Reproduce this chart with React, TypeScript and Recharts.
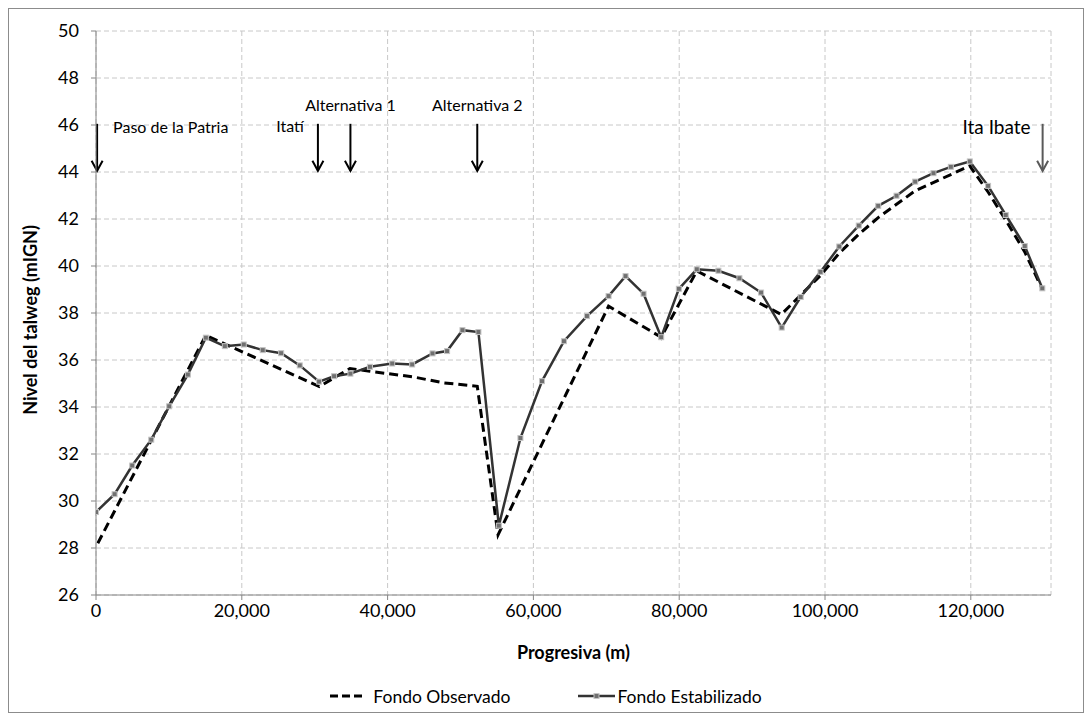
import React from "react";
import {
  LineChart,
  Line,
  XAxis,
  YAxis,
  CartesianGrid,
  Legend,
  ReferenceLine,
} from "recharts";

// Fondo Estabilizado (progresiva m, nivel mIGN)
const stabX = [
  0, 2550, 4970, 7580, 10040, 12600, 15070, 17670, 20270, 22870, 25400, 27950,
  30600, 32660, 34900, 37580, 40630, 43370, 46160, 48160, 50270, 52460, 55260,
  58220, 61180, 64190, 67340, 70310, 72640, 75110, 77530, 79950, 82410, 85380,
  88260, 91230, 94060, 96660, 99380, 101960, 104630, 107300, 109810, 112370,
  114880, 117260, 119860, 122370, 124790, 127400, 129810,
];
const stabY = [
  29.53, 30.29, 31.51, 32.61, 34.03, 35.38, 36.95, 36.59, 36.66, 36.42, 36.29,
  35.77, 35.08, 35.31, 35.42, 35.71, 35.85, 35.81, 36.28, 36.38, 37.27, 37.19,
  28.95, 32.68, 35.1, 36.8, 37.87, 38.72, 39.57, 38.82, 36.97, 39.03, 39.86,
  39.8, 39.48, 38.87, 37.38, 38.68, 39.75, 40.83, 41.72, 42.56, 42.99, 43.59,
  43.95, 44.22, 44.45, 43.41, 42.17, 40.85, 39.05,
];

// Fondo Observado
const obsX = [
  250, 15070, 30630, 34840, 37580, 43510, 47620, 52300, 55150, 70310, 77530,
  82410, 94000, 99380, 101960, 104630, 107300, 112370, 119860, 122370, 124790,
  127400, 129700,
];
const obsY = [
  28.2, 37.05, 34.87, 35.64, 35.52, 35.28, 35.03, 34.88, 28.56, 38.29, 36.97,
  39.79, 37.94, 39.6, 40.55, 41.35, 42.06, 43.2, 44.26, 43.15, 41.95, 40.6,
  39.08,
];

const xTicks = [0, 20000, 40000, 60000, 80000, 100000, 120000];
const yTicks = [26, 28, 30, 32, 34, 36, 38, 40, 42, 44, 46, 48, 50];

// Sitios marcados con flechas
const siteNames = ["Paso de la Patria", "Itatí", "Alternativa 1", "Alternativa 2", "Ita Ibate"];
const siteX = [150, 30440, 34900, 52300, 129850];

const stabData = stabX.map((x, i) => ({ x, y: stabY[i] }));
const obsData = obsX.map((x, i) => ({ x, y: obsY[i] }));

const FONT = "Lato, 'Open Sans', sans-serif";

// text placement relative to the top of each arrow
const labelPos: Record<string, { dx: number; dy: number; anchor: string; size: number }> = {
  "Paso de la Patria": { dx: 16, dy: 3, anchor: "start", size: 16 },
  "Itatí": { dx: -14, dy: 2, anchor: "end", size: 16 },
  "Alternativa 1": { dx: 0, dy: -19, anchor: "middle", size: 16 },
  "Alternativa 2": { dx: 0, dy: -19, anchor: "middle", size: 16 },
  "Ita Ibate": { dx: -12, dy: 3, anchor: "end", size: 19 },
};

const arrowShape = (name: string) => (props: any) => {
  const { x1, y1, x2, y2 } = props;
  const color = name === "Ita Ibate" ? "#595959" : "#000";
  const p = labelPos[name];
  return (
    <g>
      <line x1={x1} y1={y1} x2={x2} y2={y2} stroke={color} strokeWidth={2} />
      <polyline
        points={`${x2 - 5.5},${y2 - 10} ${x2},${y2} ${x2 + 5.5},${y2 - 10}`}
        fill="none"
        stroke={color}
        strokeWidth={2}
      />
      <text
        x={x1 + p.dx}
        y={y1 + p.dy}
        textAnchor={p.anchor as any}
        dominantBaseline="central"
        fontSize={p.size}
        fontFamily={FONT}
        fill="#000"
      >
        {name}
      </text>
    </g>
  );
};

const SquareDot = (props: any) => {
  const { cx, cy, index } = props;
  return (
    <rect
      key={`d-${index}`}
      x={cx - 2.5}
      y={cy - 2.5}
      width={5}
      height={5}
      fill="#707070"
      stroke="#c4c4c4"
      strokeWidth={1}
    />
  );
};

const YTitle = (props: any) => {
  const { viewBox } = props;
  const x = 21;
  const y = viewBox.y + viewBox.height / 2 + 7;
  return (
    <text
      x={x}
      y={y}
      transform={`rotate(-90, ${x}, ${y})`}
      textAnchor="middle"
      dominantBaseline="central"
      fontSize={18}
      fontWeight={700}
      fontFamily={FONT}
      fill="#000"
    >
      Nivel del talweg (mIGN)
    </text>
  );
};

const LegendContent = () => (
  <div
    style={{
      display: "flex",
      justifyContent: "center",
      alignItems: "center",
      height: 24,
      fontFamily: FONT,
      fontSize: 17.5,
      color: "#000",
    }}
  >
    <svg width={32} height={10}>
      <line x1={0} y1={5} x2={32} y2={5} stroke="#000" strokeWidth={3} strokeDasharray="8 4" />
    </svg>
    <span style={{ marginLeft: 11, marginRight: 68 }}>Fondo Observado</span>
    <svg width={37} height={10}>
      <line x1={0} y1={5} x2={37} y2={5} stroke="#333" strokeWidth={2.5} />
      <rect x={16} y={2.5} width={5} height={5} fill="#707070" stroke="#c4c4c4" />
    </svg>
    <span style={{ marginLeft: 2 }}>Fondo Estabilizado</span>
  </div>
);

export default function App() {
  return (
    <div
      style={{
        position: "relative",
        width: 1076,
        height: 705,
        border: "1px solid #8c8c8c",
        boxSizing: "border-box",
        background: "#fff",
      }}
    >
      <LineChart
        width={1074}
        height={703}
        margin={{ top: 22, right: 32, bottom: 23, left: 0 }}
      >
        <CartesianGrid stroke="#c8c8c8" strokeDasharray="5 3" />
        <XAxis
          dataKey="x"
          type="number"
          domain={[0, 131000]}
          ticks={xTicks}
          allowDataOverflow
          height={70}
          stroke="#868686"
          tickSize={5}
          tickMargin={4}
          tick={{ fill: "#000", fontSize: 18, fontFamily: FONT }}
          tickFormatter={(v: number) => v.toLocaleString("en-US")}
          label={{
            value: "Progresiva (m)",
            position: "insideBottom",
            offset: 6,
            fill: "#000",
            fontSize: 18,
            fontWeight: 700,
            fontFamily: FONT,
          }}
        />
        <YAxis
          type="number"
          domain={[26, 50]}
          ticks={yTicks}
          width={87}
          stroke="#868686"
          tickSize={5}
          tickMargin={12}
          tick={{ fill: "#000", fontSize: 18, fontFamily: FONT }}
          label={<YTitle />}
        />
        <Legend
          verticalAlign="bottom"
          content={<LegendContent />}
          wrapperStyle={{ bottom: 4, left: 0, width: 1074 }}
        />
        <Line
          data={obsData}
          dataKey="y"
          name="Fondo Observado"
          stroke="#000"
          strokeWidth={3}
          strokeDasharray="9 5"
          dot={false}
          activeDot={false}
          isAnimationActive={false}
        />
        <Line
          data={stabData}
          dataKey="y"
          name="Fondo Estabilizado"
          stroke="#333"
          strokeWidth={2.5}
          dot={<SquareDot />}
          activeDot={false}
          isAnimationActive={false}
        />
        {siteNames.map((name, i) => (
          <ReferenceLine
            key={name}
            segment={[
              { x: siteX[i], y: 46.05 },
              { x: siteX[i], y: 44.05 },
            ]}
            shape={arrowShape(name)}
          />
        ))}
      </LineChart>
    </div>
  );
}
